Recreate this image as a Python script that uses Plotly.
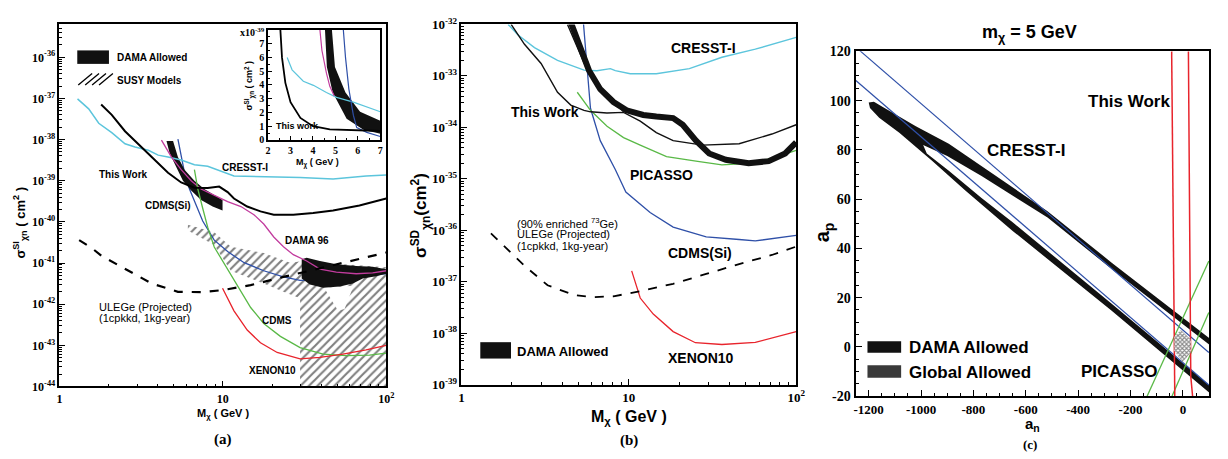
import plotly.graph_objects as go

W, H = 1228, 459
SANS = "Liberation Sans, Arial, sans-serif"
SERIF = "Liberation Serif, Times New Roman, serif"

CYAN = "#5cc5dc"
BLUE = "#2f50a8"
MAGENTA = "#c23c9e"
GREEN = "#5ab947"
RED = "#e8242c"

# ---------------- Panel (a): spin-independent, sigma (cm^2) vs M (GeV) ----------------
a_cresst_m = [1.29, 1.51, 1.74, 2.09, 2.52, 2.9, 3.5, 4.02, 4.62, 5.56, 6.7, 8.08, 11.7, 18.7, 29.7, 47.3, 75.3, 100]
a_cresst_s = [9.8e-38, 5.6e-38, 2.5e-38, 1.48e-38, 7.9e-39, 6.6e-39, 5.5e-39, 4.2e-39, 3.8e-39, 3.2e-39,
              2.45e-39, 2.24e-39, 1.3e-39, 1.26e-39, 1.2e-39, 1.1e-39, 1.3e-39, 1.38e-39]

a_work_m = [1.8, 2.09, 2.52, 2.9, 3.34, 4.02, 4.62, 5.56, 6.7, 8.08, 9.5, 10.7, 11.7, 14.1, 17.0, 20.5, 27,
            35.7, 47.3, 68.6, 100]
a_work_s = [7.1e-38, 4.0e-38, 1.6e-38, 9.3e-39, 5.5e-39, 2.7e-39, 1.56e-39, 9.1e-40, 6.8e-40, 6.7e-40,
            7.2e-40, 5.3e-40, 3.7e-40, 2.36e-40, 1.8e-40, 1.5e-40, 1.5e-40, 1.65e-40, 1.9e-40, 2.5e-40, 3.7e-40]

a_dama96_m = [4.21, 4.84, 5.56, 6.4, 7.36, 8.86, 10.7, 12.9, 15.5, 17.8, 20.5, 23.5, 27, 32.6, 39.3, 49.5,
              65.5, 82.6, 100]
a_dama96_s = [9.7e-39, 3.8e-39, 1.86e-39, 1.0e-39, 6.3e-40, 4.5e-40, 3.1e-40, 2.36e-40, 1.5e-40, 8.9e-41,
              4.3e-41, 2.5e-41, 1.6e-41, 1.12e-41, 7.1e-42, 6.0e-42, 5.5e-42, 5.8e-42, 6.5e-42]

a_cdmssi_m = [5.31, 5.56, 5.83, 6.25, 6.86, 7.53, 8.86, 10.7, 13.5, 17.8, 23.5, 29.7, 51.9, 86.6, 100]
a_cdmssi_s = [1.03e-38, 3.8e-39, 1.56e-39, 6.3e-40, 2.6e-40, 1.05e-40, 3.6e-41, 1.9e-41, 1.02e-41, 6.5e-42,
              4.6e-42, 3.8e-42, 4.0e-42, 5.0e-42, 5.5e-42]

a_cdms_m = [6.7, 7.03, 7.53, 8.08, 8.86, 10.7, 12.9, 14.8, 17.8, 22.5, 29.7, 41.1, 57, 78.9, 100]
a_cdms_s = [1.86e-39, 6.3e-40, 2.15e-40, 7.4e-41, 2.45e-41, 7.1e-42, 2.0e-42, 8.3e-43, 3.4e-43, 1.65e-43,
            8.8e-44, 6.1e-44, 5.6e-44, 5.8e-44, 6.5e-44]

a_xenon_m = [9.96, 10.7, 11.7, 14.1, 17.0, 21.5, 29.7, 39.3, 54.3, 75.3, 100]
a_xenon_s = [2.45e-42, 1.4e-42, 6.9e-43, 2.35e-43, 1.15e-43, 6.7e-44, 4.7e-44, 5.1e-44, 6.1e-44, 7.8e-44, 1.0e-43]

a_ulege_m = [1.32, 1.58, 1.82, 2.52, 3.66, 5.31, 7.36, 9.96, 14.8, 23.5, 37.5, 59.7, 100]
a_ulege_s = [3.6e-41, 2.3e-41, 1.47e-41, 7.1e-42, 3.2e-42, 2.0e-42, 1.96e-42, 2.2e-42, 2.9e-42, 4.6e-42,
             7.1e-42, 1.12e-41, 1.8e-41]

# DAMA allowed, low-mass band (outline) and high-mass island (outline)
a_dama_lo_m = [4.96, 5.31, 5.83, 6.7, 7.7, 8.86, 9.96, 9.96, 8.66, 7.36, 6.4, 5.7, 5.19, 4.73, 4.52]
a_dama_lo_s = [9.3e-39, 3.8e-39, 1.86e-39, 1.0e-39, 6.3e-40, 4.5e-40, 3.4e-40, 1.9e-40, 2.36e-40, 3.4e-40,
               5.8e-40, 1.0e-39, 2.24e-39, 4.6e-39, 9.3e-39]
a_dama_hi_m = [30.4, 32.6, 39.3, 49.5, 65.5, 82.6, 100, 100, 86.6, 71.8, 62.5, 51.9, 41.1, 34.1, 30.4]
a_dama_hi_s = [1.23e-41, 1.35e-41, 1.12e-41, 9.3e-42, 8.5e-42, 8.1e-42, 7.1e-42, 5.5e-42, 4.8e-42, 4.2e-42,
               3.2e-42, 2.7e-42, 2.5e-42, 3.0e-42, 4.2e-42]

# SUSY models (hatched outline) and the unhatched notch below the DAMA island
a_susy_m = [6.11, 8.86, 11.2, 17.8, 25.8, 30.4, 100, 100, 29.7, 29.7, 23.5, 17.8, 11.2, 8.86, 6.11]
a_susy_s = [8.5e-41, 5.6e-41, 2.5e-41, 1.75e-41, 1.02e-41, 1.1e-41, 7.9e-42, 1e-44, 1e-44, 1.4e-42, 2.0e-42,
            3.2e-42, 6.5e-42, 2.75e-41, 6.2e-41]
a_notch_m = [41.7, 63.1, 55.6, 50.7]
a_notch_s = [2.5e-42, 2.8e-42, 7.6e-43, 6.9e-43]

# Inset: linear, sigma in units of 1e-39 cm^2
in_work_m = [2.53, 2.62, 2.77, 3.0, 3.44, 4.0, 4.75, 5.8, 7.0]
in_work_s = [8.5, 6.0, 4.15, 2.75, 1.6, 1.0, 0.77, 0.7, 0.65]
in_cresst_m = [2.85, 3.07, 3.57, 4.02, 4.6, 5.05, 5.8, 7.0]
in_cresst_s = [6.0, 5.1, 4.27, 3.97, 3.45, 3.1, 2.75, 2.05]
in_dama96_m = [4.28, 4.4, 4.6, 4.75, 4.95]
in_dama96_s = [8.5, 6.5, 4.85, 3.9, 3.2]
in_cdmssi_m = [5.33, 5.45, 5.6, 5.8, 5.95, 6.4, 7.0]
in_cdmssi_s = [8.5, 6.0, 3.7, 1.8, 0.9, 0.55, 0.25]
in_dama_m = [4.82, 4.98, 5.45, 6.1, 7.0, 7.0, 6.25, 5.5, 4.88, 4.62, 4.52]
in_dama_s = [8.5, 5.3, 3.45, 2.05, 1.4, 0.45, 0.75, 1.55, 3.45, 5.3, 8.5]

# ---------------- Panel (b): spin-dependent ----------------
b_cresst_m = [1.9, 2.17, 2.73, 3.75, 5.4, 6.45, 7.76, 8.3, 10.2, 14.6, 23, 36, 57, 100]
b_cresst_s = [1.0e-32, 6.3e-33, 3.55e-33, 2.0e-33, 1.29e-33, 1.26e-33, 1.38e-33, 1.26e-33, 1.1e-33, 1.1e-33,
              1.38e-33, 2.3e-33, 3.3e-33, 5.6e-33]
b_work_m = [1.98, 2.38, 2.99, 3.75, 4.5, 5.4, 5.9, 7.4, 9.3, 11.7, 14.6, 18.4, 27.6, 45.6, 71.6, 100]
b_work_s = [1.0e-32, 4.1e-33, 1.74e-33, 4.8e-34, 2.7e-34, 2.14e-34, 2.0e-34, 1.9e-34, 1.95e-34, 1.32e-34,
            7.9e-35, 5.5e-35, 4.5e-35, 4.8e-35, 7.4e-35, 1.12e-34]
b_work2_m = [4.3, 4.92, 5.64, 6.75, 8.1, 9.3]
b_work2_s = [1.0e-32, 3.55e-33, 1.29e-33, 5.9e-34, 3.1e-34, 2.0e-34]
b_dama_m = [4.5, 5.15, 5.77, 6.75, 8.1, 9.7, 12.2, 14.6, 18.4, 21, 25.2, 30.2, 38, 52, 68.5, 86, 100]
b_dama_s = [1.1e-32, 3.55e-33, 1.29e-33, 5.5e-34, 3.1e-34, 2.14e-34, 1.74e-34, 1.62e-34, 1.51e-34, 1.12e-34,
            5.5e-35, 3.1e-35, 2.34e-35, 2.0e-35, 2.2e-35, 3.1e-35, 5.1e-35]
b_cdmssi_m = [5.35, 5.64, 5.9, 6.75, 8.3, 9.6, 13.4, 18.4, 29, 45.6, 57, 100]
b_cdmssi_s = [1.1e-32, 1.29e-33, 2.34e-34, 5.5e-35, 1.51e-35, 5.5e-36, 2.2e-36, 1.15e-36, 7.4e-37, 6.6e-37,
              6.2e-37, 7.9e-37]
b_picasso_m = [4.92, 5.9, 7.41, 9.3, 11.7, 16.8, 25.2, 36, 52, 71.6, 100]
b_picasso_s = [4.8e-34, 2.14e-34, 1.05e-34, 6.3e-35, 4.5e-35, 2.7e-35, 2.2e-35, 1.86e-35, 2.0e-35, 2.5e-35,
               3.55e-35]
b_xenon_m = [10.4, 11.7, 14.0, 18.4, 25, 36, 57, 100]
b_xenon_s = [1.62e-37, 4.8e-38, 2.34e-38, 1.07e-38, 6.5e-39, 6.0e-39, 6.6e-39, 1.07e-38]
b_ulege_m = [1.5, 1.9, 2.38, 3.27, 4.7, 6.18, 8.1, 11.7, 18.4, 29, 45.6, 71.6, 100]
b_ulege_s = [8.7e-37, 4.2e-37, 2.04e-37, 8.5e-38, 5.5e-38, 5.0e-38, 5.2e-38, 6.5e-38, 9.1e-38, 1.41e-37,
             2.2e-37, 3.3e-37, 4.8e-37]

# ---------------- Panel (c): a_p vs a_n at m = 5 GeV ----------------
c_dama_out_an = [-1200, -1180, -1146, -1020, -894, -769, -643, -517, -272, 100, 100, -272, -649, -831, -957,
                 -1083, -1160, -1195]
c_dama_out_ap = [99.2, 99.5, 97.4, 89.6, 82.5, 73.3, 64.2, 55.1, 34.2, 3.6, -18.5, 14.7, 47.0, 63.5, 75.5,
                 87.0, 93.0, 97.0]
c_dama_in_an = [-992, -900, -769, -517, -272, 100, 100, -272, -649, -769, -894, -978]
c_dama_in_ap = [82.0, 77.5, 69.4, 52.5, 31.6, 1.0, -15.5, 17.5, 50.5, 60.5, 71.5, 78.5]
c_cresst1_an = [-1234, 99]
c_cresst1_ap = [120.3, -2.3]
c_cresst2_an = [-1249, 99]
c_cresst2_ap = [108.2, -15.5]
c_work1_an = [-43, -39, -36, -33, -31]
c_work1_ap = [120, 70, 20, -12, -20]
c_work2_an = [21, 24, 27, 30, 37]
c_work2_ap = [120, 70, 20, -12, -20]
c_picasso1_an = [-137, 99]
c_picasso1_ap = [-20.1, 34.9]
c_picasso2_an = [-42, 99]
c_picasso2_ap = [-20.1, 14.0]
c_global_an = [-8, 30, 30, -1, -33, -33]
c_global_ap = [6.8, 3.0, -2.3, -6.2, -1.6, 4.2]

# ---------------- figure ----------------
def fx(p):
    return p / W


def fy(p):
    return 1 - p / H


AX = {"a": ("x", "y"), "in": ("x2", "y2"), "b": ("x3", "y3"), "c": ("x4", "y4")}
fig = go.Figure()


def line(x, y, ax, color, width, dash=None):
    xa, ya = AX[ax]
    fig.add_trace(go.Scatter(x=x, y=y, xaxis=xa, yaxis=ya, mode="lines",
                             line=dict(color=color, width=width, dash=dash),
                             hoverinfo="skip", showlegend=False))


def area(x, y, ax, color, pattern=None):
    xa, ya = AX[ax]
    kw = {}
    if pattern is not None:
        kw["fillpattern"] = pattern
    fig.add_trace(go.Scatter(x=x, y=y, xaxis=xa, yaxis=ya, mode="lines", fill="toself",
                             fillcolor=color, line=dict(width=0, color=color),
                             hoverinfo="skip", showlegend=False, **kw))


# panel (a)
area(a_susy_m, a_susy_s, "a", "white",
     pattern=dict(shape="/", fgcolor="#000000", bgcolor="white", size=6, solidity=0.35))
area(a_notch_m, a_notch_s, "a", "white")
line(a_cdmssi_m, a_cdmssi_s, "a", BLUE, 1.3)
area(a_dama_hi_m, a_dama_hi_s, "a", "#111111")
area(a_dama_lo_m, a_dama_lo_s, "a", "#111111")
line(a_cresst_m, a_cresst_s, "a", CYAN, 1.5)
line(a_dama96_m, a_dama96_s, "a", MAGENTA, 1.3)
line(a_cdms_m, a_cdms_s, "a", GREEN, 1.3)
line(a_xenon_m, a_xenon_s, "a", RED, 1.3)
line(a_work_m, a_work_s, "a", "black", 2.0)
line(a_ulege_m, a_ulege_s, "a", "black", 2.2, dash="dash")

# inset
area(in_dama_m, in_dama_s, "in", "#111111")
line(in_cresst_m, in_cresst_s, "in", CYAN, 1.2)
line(in_dama96_m, in_dama96_s, "in", MAGENTA, 1.2)
line(in_cdmssi_m, in_cdmssi_s, "in", BLUE, 1.2)
line(in_work_m, in_work_s, "in", "black", 1.8)

# panel (b)
line(b_cresst_m, b_cresst_s, "b", CYAN, 1.4)
line(b_cdmssi_m, b_cdmssi_s, "b", BLUE, 1.3)
line(b_picasso_m, b_picasso_s, "b", GREEN, 1.3)
line(b_xenon_m, b_xenon_s, "b", RED, 1.3)
line(b_work_m, b_work_s, "b", "#111111", 1.4)
line(b_work2_m, b_work2_s, "b", "#111111", 1.4)
line(b_dama_m, b_dama_s, "b", "#111111", 6)
line(b_ulege_m, b_ulege_s, "b", "black", 1.8, dash="dash")

# panel (c)
area(c_dama_out_an, c_dama_out_ap, "c", "#111111")
area(c_dama_in_an, c_dama_in_ap, "c", "white")
line(c_cresst1_an, c_cresst1_ap, "c", BLUE, 1.2)
line(c_cresst2_an, c_cresst2_ap, "c", BLUE, 1.2)
line(c_picasso1_an, c_picasso1_ap, "c", GREEN, 1.3)
line(c_picasso2_an, c_picasso2_ap, "c", GREEN, 1.3)
line(c_work1_an, c_work1_ap, "c", RED, 1.5)
line(c_work2_an, c_work2_ap, "c", RED, 1.5)
area(c_global_an, c_global_ap, "c", "white",
     pattern=dict(shape="x", fgcolor="#111111", bgcolor="white", size=3, solidity=0.6))


def axis(**kw):
    d = dict(showline=True, linecolor="black", linewidth=1.5, mirror=True, ticks="inside",
             ticklen=6, tickwidth=1.2, tickcolor="black", showgrid=False, zeroline=False,
             tickfont=dict(family=SERIF, size=12, color="black"))
    d.update(kw)
    return d


def dec_ticks(lo, hi):
    vals = [10.0 ** e for e in range(lo, hi + 1)]
    txt = ["<b>10<sup>%d</sup></b>" % e for e in range(lo, hi + 1)]
    return vals, txt


minor_log = dict(ticks="inside", ticklen=3, tickwidth=1, tickcolor="black", dtick="D1", showgrid=False)
xv = [1, 10, 100]
xt = ["<b>1</b>", "<b>10</b>", "<b>10<sup>2</sup></b>"]
ya_v, ya_t = dec_ticks(-44, -36)
yb_v, yb_t = dec_ticks(-39, -32)

fig.update_layout(
    width=W, height=H, margin=dict(l=0, r=0, t=0, b=0),
    paper_bgcolor="white", plot_bgcolor="white", showlegend=False,
    xaxis=axis(domain=[fx(57), fx(387)], type="log", range=[0, 2], anchor="y",
               tickmode="array", tickvals=xv, ticktext=xt, minor=minor_log),
    yaxis=axis(domain=[fy(392), fy(16)], type="log", range=[-44, -35.2], anchor="x",
               tickmode="array", tickvals=ya_v, ticktext=ya_t, minor=minor_log),
    xaxis2=axis(domain=[fx(267.7), fx(381)], range=[2, 7], anchor="y2", tickmode="array",
                tickvals=[2, 3, 4, 5, 6, 7], ticktext=["<b>%d</b>" % v for v in [2, 3, 4, 5, 6, 7]],
                ticklen=4, tickfont=dict(family=SERIF, size=10, color="black"),
                minor=dict(ticks="inside", ticklen=2, dtick=0.5, tickcolor="black")),
    yaxis2=axis(domain=[fy(136), fy(21.7)], range=[0, 8], anchor="x2", tickmode="array",
                tickvals=list(range(8)), ticktext=["<b>%d</b>" % v for v in range(8)],
                ticklen=4, tickfont=dict(family=SERIF, size=10, color="black"),
                minor=dict(ticks="inside", ticklen=2, dtick=0.5, tickcolor="black")),
    xaxis3=axis(domain=[fx(463), fx(801)], type="log", range=[0, 2], anchor="y3",
                tickmode="array", tickvals=xv, ticktext=xt, minor=minor_log,
                tickfont=dict(family=SERIF, size=13, color="black")),
    yaxis3=axis(domain=[fy(390), fy(16)], type="log", range=[-39, -32], anchor="x3",
                tickmode="array", tickvals=yb_v, ticktext=yb_t, minor=minor_log,
                tickfont=dict(family=SERIF, size=13, color="black")),
    xaxis4=axis(domain=[fx(861), fx(1218)], range=[-1250, 100], anchor="y4", tickmode="array",
                tickvals=list(range(-1200, 1, 200)),
                ticktext=["<b>%d</b>" % v for v in range(-1200, 1, 200)],
                tickfont=dict(family=SERIF, size=13, color="black"), linewidth=2,
                minor=dict(ticks="inside", ticklen=3, dtick=50, tickcolor="black")),
    yaxis4=axis(domain=[fy(402), fy(44)], range=[-20, 120], anchor="x4", tickmode="array",
                tickvals=list(range(-20, 121, 20)),
                ticktext=["<b>%d</b>" % v for v in range(-20, 121, 20)],
                tickfont=dict(family=SERIF, size=14, color="black"), linewidth=2,
                minor=dict(ticks="inside", ticklen=3, dtick=5, tickcolor="black")),
)

anns = []


def ann(text, x, y, size, family=SANS, xanchor="center", angle=0, bold=True):
    t = "<b>%s</b>" % text if bold else text
    anns.append(dict(text=t, x=fx(x), y=fy(y), xref="paper", yref="paper", showarrow=False,
                     xanchor=xanchor, yanchor="middle", textangle=angle,
                     font=dict(family=family, size=size, color="black")))


# panel (a) texts
ann("DAMA Allowed", 113, 50, 10, xanchor="left")
ann("SUSY Models", 113, 74, 10, xanchor="left")
ann("This Work", 122, 172, 10)
ann("CRESST-I", 244, 165, 10)
ann("CDMS(Si)", 167, 204, 10)
ann("DAMA 96", 307, 240, 10)
ann("ULEGe (Projected)", 95, 309, 11, xanchor="left", bold=False)
ann("(1cpkkd, 1kg-year)", 95, 321, 11, xanchor="left", bold=False)
ann("CDMS", 277, 323, 10)
ann("XENON10", 272, 375, 10)
ann("M<sub>χ</sub> ( GeV )", 222, 421, 11)
ann("σ<sup>SI</sup><sub>χn</sub> ( cm<sup>2</sup> )", 17, 222, 13, angle=-90)
ann("(a)", 222, 447, 15, family=SERIF)
# inset texts
ann("x10<sup>-39</sup>", 252, 24, 10, family=SERIF)
ann("This work", 297, 122, 9)
ann("M<sub>χ</sub> ( GeV )", 318, 160, 9)
ann("σ<sup>SI</sup><sub>χn</sub> ( cm<sup>2</sup> )", 249, 80, 9, angle=-90)

# panel (b) texts
ann("CRESST-I", 707, 40, 14)
ann("This Work", 547, 107, 14)
ann("PICASSO", 665, 172, 14)
ann("(90% enriched <sup>73</sup>Ge)", 517, 222, 11, xanchor="left", bold=False)
ann("ULEGe (Projected)", 517, 234, 11, xanchor="left", bold=False)
ann("(1cpkkd, 1kg-year)", 517, 246, 11, xanchor="left", bold=False)
ann("CDMS(Si)", 704, 253, 14)
ann("XENON10", 705, 362, 14)
ann("DAMA Allowed", 517, 356, 13, xanchor="left")
ann("M<sub>χ</sub> ( GeV )", 632, 424, 16)
ann("σ<sup>SD</sup><sub>χn</sub>(cm<sup>2</sup>)", 421, 214, 17, angle=-90)
ann("(b)", 632, 448, 15, family=SERIF)

# panel (c) texts
ann("m<sub>χ</sub> = 5 GeV", 1037, 25, 18)
ann("This Work", 1137, 96, 17)
ann("CRESST-I", 1033, 147, 17)
ann("PICASSO", 1128, 376, 17)
ann("DAMA Allowed", 913, 351, 17, xanchor="left")
ann("Global Allowed", 913, 377, 17, xanchor="left")
ann("a<sub>p</sub>", 829, 232, 20, angle=-90)
ann("a<sub>n</sub>", 1040, 431, 15)
ann("(c)", 1037, 452, 13, family=SERIF)

shapes = []


def rect(x0, y0, x1, y1, color):
    shapes.append(dict(type="rect", xref="paper", yref="paper", x0=fx(x0), x1=fx(x1),
                       y0=fy(y1), y1=fy(y0), fillcolor=color, line=dict(width=0)))


def seg(x0, y0, x1, y1, w=1.3):
    shapes.append(dict(type="line", xref="paper", yref="paper", x0=fx(x0), x1=fx(x1),
                       y0=fy(y0), y1=fy(y1), line=dict(color="black", width=w)))


# legend swatches
rect(75, 43, 107, 57, "#111111")
for s in range(4):
    seg(76 + 7 * s, 79, 90 + 7 * s, 67)
rect(482, 346, 513, 363, "#111111")
rect(873, 345, 907, 357, "#111111")
rect(873, 370, 907, 383, "#3a3a3a")

fig.update_layout(annotations=anns, shapes=shapes)
fig.write_html("out.html")
